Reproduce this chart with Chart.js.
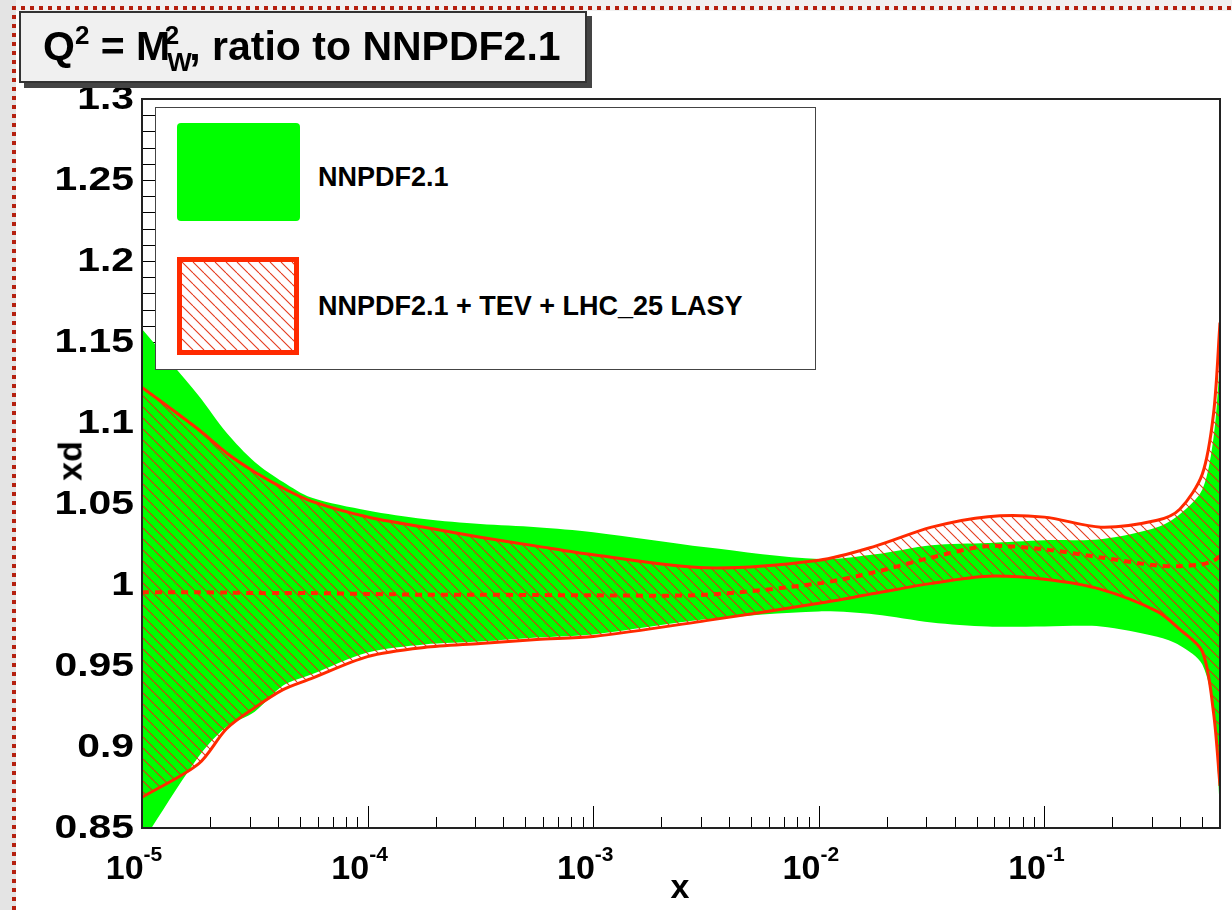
<!DOCTYPE html>
<html>
<head>
<meta charset="utf-8">
<script src="https://cdn.jsdelivr.net/npm/chart.js@4/dist/chart.umd.min.js"></script>
<style>
  body { margin: 0; width: 1232px; height: 910px; background: #fff; position: relative; overflow: hidden;
         font-family: "Liberation Sans", Arial, sans-serif; font-weight: bold; }
  .abs { position: absolute; }
  #stripL { left: 0; top: 0; width: 16px; height: 910px; background: #e4e4e4; }
  #stripT { left: 0; top: 0; width: 1232px; height: 11px; background: #f1f1f1; }
  #dotL { left: 12px; top: 6px; width: 4px; height: 904px;
          background: repeating-linear-gradient(to bottom, #b5200f 0 4px, transparent 4px 9px); }
  #dotT { left: 12px; top: 6px; width: 1220px; height: 4px;
          background: repeating-linear-gradient(to right, #b5200f 0 4px, transparent 4px 9px); }
  #title { left: 19px; top: 11px; width: 568px; height: 72px; box-sizing: border-box; background: #f0f0f0;
           border: 2px solid #333; box-shadow: 5px 5px 0 #444; font-size: 41px; line-height: 66px;
           padding-left: 22px; white-space: nowrap; }
  .sup { font-size: 26px; position: relative; top: -16px; }
  .sub { font-size: 26px; position: relative; top: 11px; margin-left: -3px; }
  #legend { left: 155px; top: 107px; width: 661px; height: 263px; box-sizing: border-box; background: #fff;
            border: 1.5px solid #444; }
  #boxG { left: 177px; top: 123px; width: 123px; height: 98px; background: #00ff00; border-radius: 4px; }
  #boxR { left: 177px; top: 257px; width: 122px; height: 98px; box-sizing: border-box; border: 5px solid #ff2a00;
          background-color: #fff; }
  .lt { font-size: 27px; white-space: nowrap; }
  #ytitle { left: 70px; top: 461px; font-size: 34px; transform: translate(-50%, -50%) rotate(-90deg); }
  #xtitle { left: 680px; top: 886px; font-size: 34px; transform: translate(-50%, -50%); }
</style>
</head>
<body>
<div id="stripT" class="abs"></div>
<div id="stripL" class="abs"></div>
<div id="dotT" class="abs"></div>
<div id="dotL" class="abs"></div>
<canvas id="chart" class="abs" width="1232" height="910" style="left:0;top:0"></canvas>
<div id="title" class="abs">Q<span class="sup">2</span> = M<span class="sub">W</span><span class="sup" style="margin-left:-27px;margin-right:10px">2</span>, ratio to NNPDF2.1</div>
<div id="legend" class="abs"></div>
<div id="boxG" class="abs"></div>
<div id="boxR" class="abs"></div>
<div class="abs lt" style="left:318px;top:162px">NNPDF2.1</div>
<div class="abs lt" style="left:318px;top:291px">NNPDF2.1 + TEV + LHC_25 LASY</div>
<div id="ytitle" class="abs">xd</div>
<div id="xtitle" class="abs">x</div>
<script>
// x grid (log) and ratio curves
const xs = [1e-5, 1.78e-5, 2.37e-5, 3.16e-5, 4.22e-5, 5.62e-5, 1e-4, 1.78e-4, 3.16e-4, 5.62e-4, 1e-3, 3.16e-3,
            1e-2, 1.78e-2, 3.16e-2, 5.62e-2, 0.1, 0.178, 0.316, 0.398, 0.501, 0.562, 0.6];
const nnpdfUp = [1.158, 1.117, 1.094, 1.076, 1.0636, 1.054, 1.046, 1.0407, 1.0376, 1.0357, 1.0326, 1.0233,
                 1.016, 1.019, 1.0246, 1.026, 1.0277, 1.0283, 1.0357, 1.0437, 1.059, 1.0914, 1.138];
const nnpdfLo = [0.841, 0.894, 0.9125, 0.9218, 0.9379, 0.9447, 0.9583, 0.9633, 0.9651, 0.9676, 0.9695, 0.9788,
                 0.9837, 0.9818, 0.9769, 0.9744, 0.9744, 0.9744, 0.968, 0.9627, 0.951, 0.921, 0.86];
const lasyUp = [1.122, 1.096, 1.0815, 1.0697, 1.0598, 1.0518, 1.042, 1.0357, 1.0295, 1.024, 1.0187, 1.0106,
                1.0153, 1.024, 1.0357, 1.0422, 1.0419, 1.0357, 1.040, 1.0468, 1.0685, 1.106, 1.162];
const lasyLo = [0.869, 0.8896, 0.9113, 0.9243, 0.9354, 0.9422, 0.9558, 0.9614, 0.9639, 0.9664, 0.9682, 0.978,
                0.9887, 0.9949, 1.001, 1.0054, 1.0035, 0.9973, 0.9837, 0.9726, 0.959, 0.921, 0.876];
const lasyCv = [0.9955, 0.9955, 0.9953, 0.995, 0.995, 0.995, 0.9945, 0.994, 0.994, 0.9938, 0.9936, 0.994,
                1.001, 1.008, 1.017, 1.024, 1.022, 1.017, 1.012, 1.0116, 1.0128, 1.015, 1.0178];

const xMajor = [1e-5, 1e-4, 1e-3, 1e-2, 1e-1];
const xExp = ["-5", "-4", "-3", "-2", "-1"];
const yMajor = [0.85, 0.9, 0.95, 1, 1.05, 1.1, 1.15, 1.2, 1.25, 1.3];
const yLabels = ["0.85", "0.9", "0.95", "1", "1.05", "1.1", "1.15", "1.2", "1.25", "1.3"];

const RED = "#ff2a00";
const GREEN = "#00ff00";

function pts(ys) { return xs.map((x, i) => ({ x: x, y: ys[i] })); }

function hatchCanvas() {
  const c = document.createElement("canvas");
  c.width = 11; c.height = 11;
  const g = c.getContext("2d");
  g.strokeStyle = "rgba(225,45,15,0.95)";
  g.lineWidth = 1.1;
  for (const o of [-11, 0, 11]) {
    g.beginPath(); g.moveTo(o, 0); g.lineTo(o + 11, 11); g.stroke();
  }
  return c;
}
const hatchTile = hatchCanvas();
document.getElementById("boxR").style.backgroundImage = "url(" + hatchTile.toDataURL() + ")";

const FONT = '"Liberation Sans", Arial, sans-serif';

const rootAxes = {
  id: "rootAxes",
  beforeDraw(chart) {
    // inward ticks, drawn under the bands
    const ctx = chart.ctx, a = chart.chartArea;
    const xs_ = chart.scales.x, ys_ = chart.scales.y;
    ctx.save();
    ctx.strokeStyle = "#000";
    ctx.lineWidth = 1;
    ctx.beginPath();
    for (let e = -5; e < 0; e++) {
      for (let m = 1; m <= 9; m++) {
        const v = m * Math.pow(10, e);
        if (v > 0.6) continue;
        const px = Math.round(xs_.getPixelForValue(v)) + 0.5;
        const len = m === 1 ? 22 : 11;
        ctx.moveTo(px, a.bottom); ctx.lineTo(px, a.bottom - len);
      }
    }
    for (let k = 0; k <= 45; k++) {
      const v = 0.85 + k * 0.01;
      const py = Math.round(ys_.getPixelForValue(v)) + 0.5;
      const len = k % 5 === 0 ? 32 : 16;
      ctx.moveTo(a.left, py); ctx.lineTo(a.left + len, py);
    }
    ctx.stroke();
    ctx.restore();
  },
  afterDatasetsDraw(chart) {
    const ctx = chart.ctx, a = chart.chartArea;
    const xs_ = chart.scales.x, ys_ = chart.scales.y;
    ctx.save();
    ctx.strokeStyle = "#222";
    ctx.lineWidth = 2;
    ctx.strokeRect(a.left, a.top, a.right - a.left, a.bottom - a.top);
    ctx.fillStyle = "#000";
    ctx.font = "bold 34px " + FONT;
    ctx.textAlign = "right";
    ctx.textBaseline = "middle";
    yMajor.forEach((v, i) => {
      ctx.save();
      ctx.translate(a.left - 8, ys_.getPixelForValue(v) + 1);
      ctx.scale(1.2, 1);
      ctx.fillText(yLabels[i], 0, 0);
      ctx.restore();
    });
    ctx.textAlign = "left";
    ctx.textBaseline = "alphabetic";
    xMajor.forEach((v, i) => {
      const px = xs_.getPixelForValue(v);
      ctx.font = "bold 34px " + FONT;
      const wb = ctx.measureText("10").width;
      ctx.font = "bold 21px " + FONT;
      const we = ctx.measureText(xExp[i]).width;
      const x0 = px - (wb + we) / 2 - 8;
      ctx.font = "bold 34px " + FONT;
      ctx.fillText("10", x0, 879);
      ctx.font = "bold 21px " + FONT;
      ctx.fillText(xExp[i], x0 + wb, 861);
    });
    ctx.restore();
  }
};

const line = { pointRadius: 0, tension: 0.3 };

new Chart(document.getElementById("chart"), {
  type: "line",
  data: {
    datasets: [
      Object.assign({ label: "nnpdf lo", data: pts(nnpdfLo), borderWidth: 0, borderColor: GREEN, fill: false, order: 5 }, line),
      Object.assign({ label: "NNPDF2.1", data: pts(nnpdfUp), borderWidth: 0, borderColor: GREEN,
                      backgroundColor: GREEN, fill: "-1", order: 4 }, line),
      Object.assign({ label: "lasy lo", data: pts(lasyLo), borderWidth: 3, borderColor: RED, fill: false, order: 3 }, line),
      Object.assign({ label: "NNPDF2.1 + TEV + LHC_25 LASY", data: pts(lasyUp), borderWidth: 3, borderColor: RED,
                      backgroundColor: document.createElement("canvas").getContext("2d").createPattern(hatchTile, "repeat"),
                      fill: "-1", order: 2 }, line),
      Object.assign({ label: "lasy cv", data: pts(lasyCv), borderWidth: 4, borderColor: RED,
                      borderDash: [7, 6], fill: false, order: 1 }, line)
    ]
  },
  options: {
    responsive: false,
    animation: false,
    layout: { padding: { left: 142, top: 99, right: 12, bottom: 82 } },
    scales: {
      x: { type: "logarithmic", min: 1e-5, max: 0.6, display: false },
      y: { type: "linear", min: 0.85, max: 1.3, display: false }
    },
    plugins: {
      legend: { display: false },
      tooltip: { enabled: false },
      filler: { drawTime: "beforeDatasetsDraw" }
    }
  },
  plugins: [rootAxes]
});
</script>
</body>
</html>
